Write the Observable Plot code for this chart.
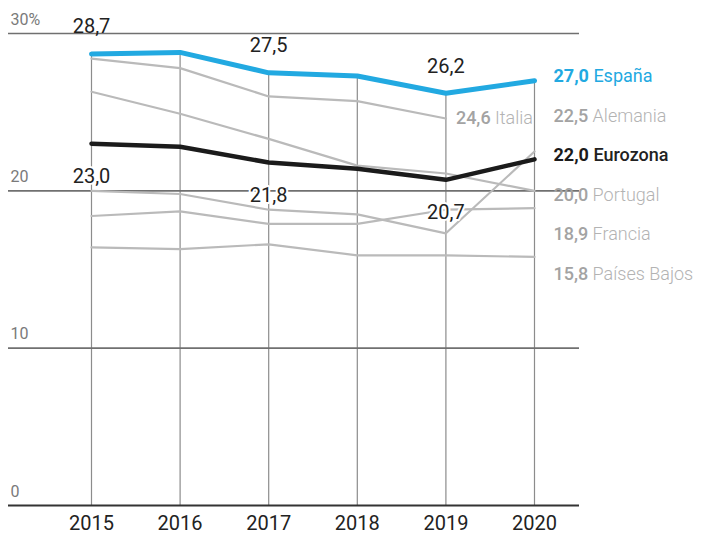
<!DOCTYPE html>
<html><head><meta charset="utf-8">
<script src="https://cdn.jsdelivr.net/npm/d3@7"></script>
<script src="https://cdn.jsdelivr.net/npm/@observablehq/plot@0.6"></script>
<style>body{margin:0;background:#fff} svg{display:block}</style>
</head><body><div id="chart"></div>
<script>
const years = [2015, 2016, 2017, 2018, 2019, 2020];
const espana      = [28.7, 28.8, 27.5, 27.3, 26.2, 27.0];
const eurozona    = [23.0, 22.8, 21.8, 21.4, 20.7, 22.0];
const italia      = [28.4, 27.8, 26.0, 25.7, 24.6, null];
const alemania    = [20.0, 19.8, 18.8, 18.5, 17.3, 22.5];
const portugal    = [26.3, 24.9, 23.3, 21.6, 21.1, 20.0];
const francia     = [18.4, 18.7, 17.9, 17.9, 18.8, 18.9];
const paisesBajos = [16.4, 16.3, 16.6, 15.9, 15.9, 15.8];
const yTicks = [0, 10, 20, 30];
const yTickLabels = ["0", "10", "20", "30%"];
const labelYears = [2015, 2017, 2019];

const BLUE = "#22a9e1", BLACK = "#1b1b1b", GREY = "#bababa";
const seriesDefs = [
  {name: "España", values: espana, color: BLUE, valColor: BLUE, nameColor: BLUE, valWeight: 700, nameWeight: 400},
  {name: "Eurozona", values: eurozona, color: BLACK, valColor: BLACK, nameColor: "#222", valWeight: 700, nameWeight: 500},
  {name: "Italia", values: italia, color: GREY, valColor: "#a3a3a3", nameColor: "#b3b3b3", valWeight: 500, nameWeight: 300},
  {name: "Alemania", values: alemania, color: GREY, valColor: "#a3a3a3", nameColor: "#b3b3b3", valWeight: 500, nameWeight: 300},
  {name: "Portugal", values: portugal, color: GREY, valColor: "#a3a3a3", nameColor: "#b3b3b3", valWeight: 500, nameWeight: 300},
  {name: "Francia", values: francia, color: GREY, valColor: "#a3a3a3", nameColor: "#b3b3b3", valWeight: 500, nameWeight: 300},
  {name: "Países Bajos", values: paisesBajos, color: GREY, valColor: "#a3a3a3", nameColor: "#b3b3b3", valWeight: 500, nameWeight: 300}
];
const fmt = v => d3.format(".1f")(v).replace(".", ",");
const toRows = s => years.map((yr, i) => ({series: s.name, year: yr, value: s.values[i]})).filter(d => d.value != null);
const greyRows = seriesDefs.filter(s => s.color === GREY).flatMap(toRows);
const espRows = toRows(seriesDefs[0]);
const euroRows = toRows(seriesDefs[1]);
const yearMax = years.map((yr, i) => ({year: yr, max: d3.max(seriesDefs, s => s.values[i])}));

// end labels (evenly spaced column)
const ends = seriesDefs.filter(s => s.name !== "Italia")
  .map(s => ({name: s.name, year: years[years.length - 1], value: s.values[s.values.length - 1], def: s}))
  .sort((a, b) => b.value - a.value);
const step = 2.51;
ends.forEach((d, i) => { d.labelY = ends[0].value + 0.15 - i * step; d.text = fmt(d.value) + "|" + d.name; });
const itDef = seriesDefs[2];
const itIdx = d3.max(itDef.values.map((v, i) => v == null ? -1 : i));
const itLabel = [{name: "Italia", year: years[itIdx], value: itDef.values[itIdx], def: itDef, text: fmt(itDef.values[itIdx]) + "|Italia"}];

const espLab = espRows.filter(d => labelYears.includes(d.year));
const euroLab = euroRows.filter(d => labelYears.includes(d.year));

const chart = Plot.plot({
  width: 701, height: 542,
  marginLeft: 8, marginRight: 122, marginTop: 33, marginBottom: 37,
  x: {domain: [2015, 2020], insetLeft: 83, insetRight: 45, axis: null},
  y: {domain: [0, 30], axis: null},
  style: {fontFamily: "Roboto, 'Liberation Sans', sans-serif", background: "white"},
  marks: [
    Plot.ruleX(yearMax, {x: "year", y1: 0, y2: "max", stroke: "#8c8c8c", strokeWidth: 1.2}),
    Plot.ruleY(yTicks.filter(t => t > 0), {y: d => d, stroke: "#707070", strokeWidth: 1.6}),
    Plot.ruleY([0], {y: d => d, stroke: "#333", strokeWidth: 2}),
    Plot.text(yTicks, {y: d => d, text: (d, i) => yTickLabels[i], frameAnchor: "left", textAnchor: "start", dx: 2, dy: -14, fill: "#7a7a7a", fontSize: 16}),
    Plot.text(years, {x: d => d, text: d => String(d), frameAnchor: "bottom", dy: 24, fill: "#222", fontSize: 20}),
    Plot.line(greyRows, {x: "year", y: "value", z: "series", stroke: GREY, strokeWidth: 2.2}),
    Plot.line(euroRows, {x: "year", y: "value", stroke: BLACK, strokeWidth: 4.5, strokeLinejoin: "round"}),
    Plot.line(espRows, {x: "year", y: "value", stroke: BLUE, strokeWidth: 5, strokeLinejoin: "round", strokeLinecap: "round"}),
    Plot.text(espLab, {x: "year", y: "value", text: d => fmt(d.value), dy: -27, fill: "#222", fontSize: 20}),
    Plot.text(euroLab, {x: "year", y: "value", text: d => fmt(d.value), dy: 33, fill: "#222", fontSize: 20, stroke: "white", strokeWidth: 4}),
    Plot.text(ends, {x: "year", y: "labelY", text: "text", textAnchor: "start", dx: 19, dy: -2, fontSize: 18}),
    Plot.text(itLabel, {x: "year", y: "value", text: "text", textAnchor: "start", dx: 10, fontSize: 18})
  ]
});
document.getElementById("chart").appendChild(chart);

// style value + name separately
const labelByName = new Map(ends.concat(itLabel).map(d => [d.name, d]));
d3.select(chart).selectAll("text").each(function() {
  const el = d3.select(this);
  const t = el.text();
  if (!t.includes("|")) return;
  const [v, n] = t.split("|");
  const d = labelByName.get(n).def;
  el.text(null);
  el.append("tspan").attr("font-weight", d.valWeight).attr("fill", d.valColor).text(v);
  el.append("tspan").attr("font-weight", d.nameWeight).attr("fill", d.nameColor).text(" " + n);
});
</script>
</body></html>
